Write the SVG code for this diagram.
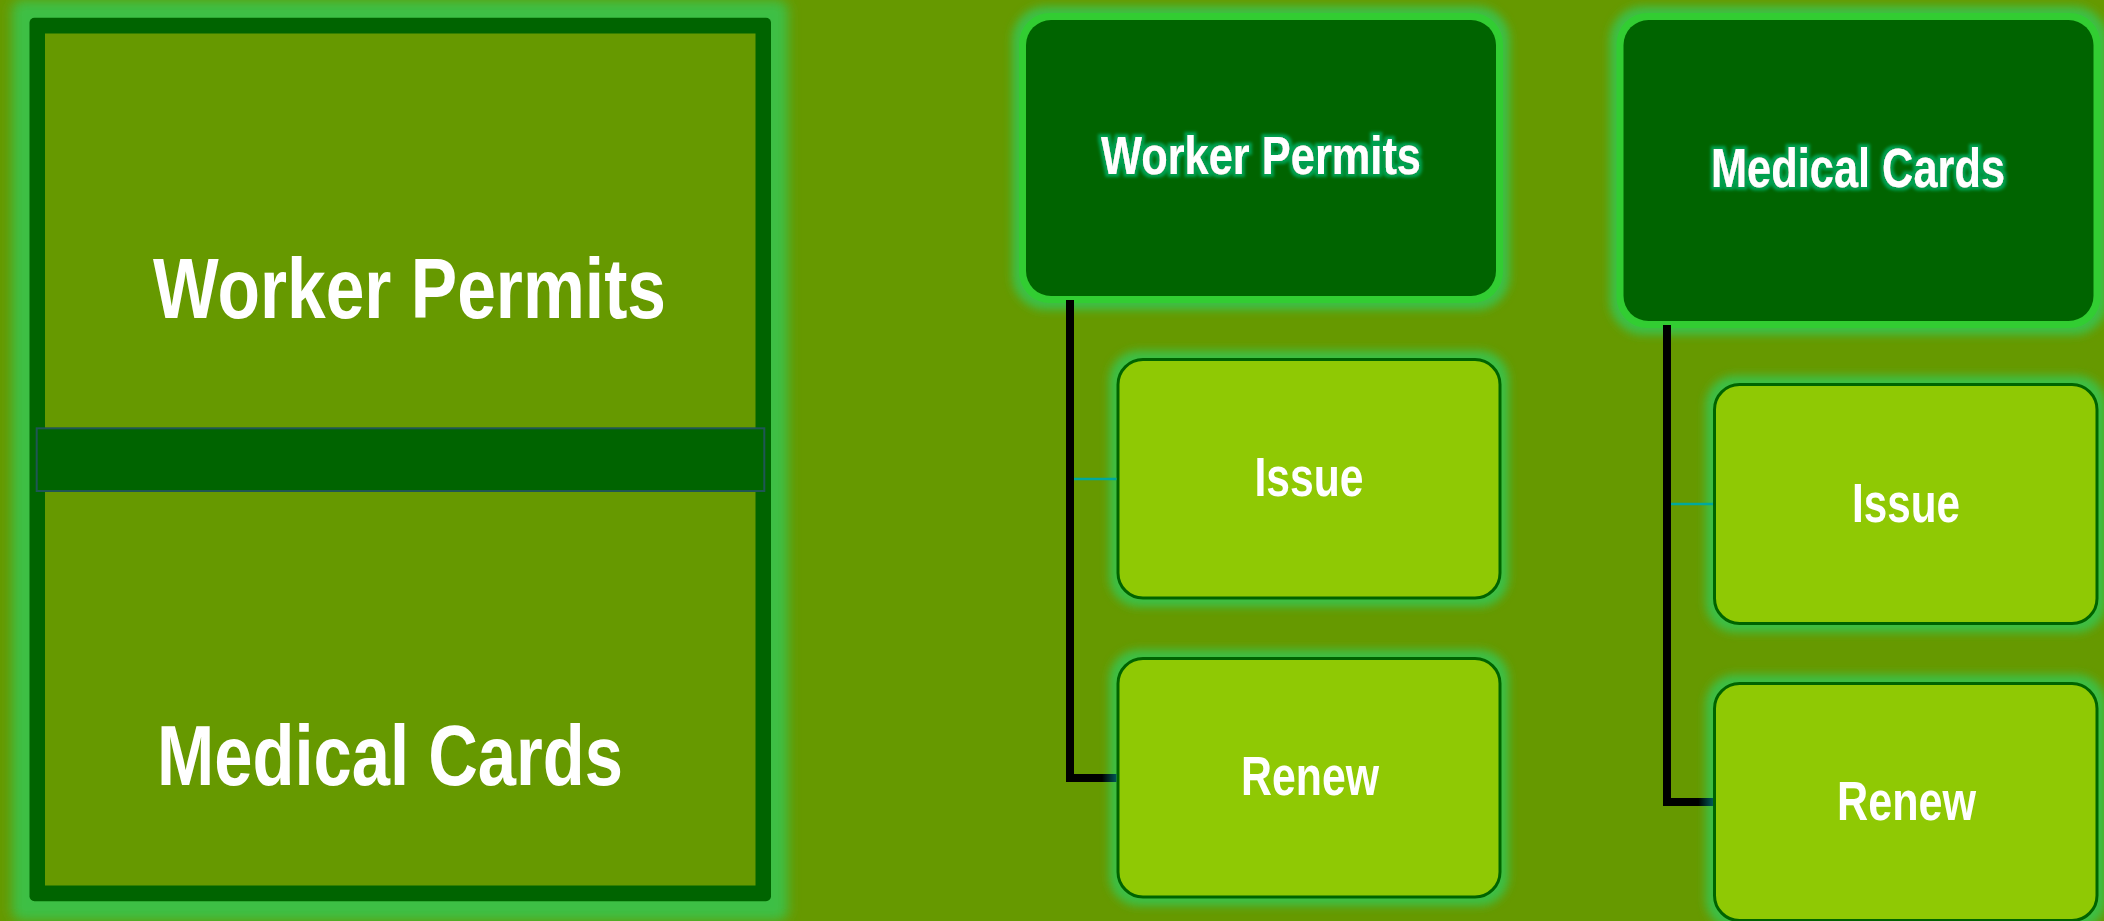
<svg xmlns="http://www.w3.org/2000/svg" width="2104" height="921" viewBox="0 0 2104 921">
<style>
.lbl{font-family:"Liberation Sans Narrow","Liberation Sans",Arial,sans-serif;font-weight:bold;fill:#ffffff}
.head{fill:#006400}
.ring{fill:#32cd32}
.child{fill:#8fc904;stroke:#006400;stroke-width:3}
.glowHead{fill:#3dbf45;filter:url(#blur4)}
.glowChild{fill:#3dbf45;filter:url(#blur4)}
</style>
<defs>
<filter id="blur4" x="-20%" y="-20%" width="140%" height="140%"><feGaussianBlur stdDeviation="4"/></filter>
<filter id="blur6" x="-20%" y="-20%" width="140%" height="140%"><feGaussianBlur stdDeviation="6"/></filter>
<filter id="txtGlow" x="-10%" y="-30%" width="120%" height="160%">
<feMorphology in="SourceAlpha" operator="dilate" radius="2.5" result="d"/>
<feFlood flood-color="#00a050"/>
<feComposite in2="d" operator="in" result="g"/>
<feGaussianBlur in="g" stdDeviation="1.8" result="gb"/>
<feMerge><feMergeNode in="gb"/><feMergeNode in="SourceGraphic"/></feMerge>
</filter>
<linearGradient id="gWP" gradientUnits="userSpaceOnUse" x1="1070" y1="0" x2="1117" y2="0">
<stop offset="0" stop-color="#000"/><stop offset="0.68" stop-color="#000"/><stop offset="1" stop-color="#005a5a"/>
</linearGradient>
<linearGradient id="gMC" gradientUnits="userSpaceOnUse" x1="1667" y1="0" x2="1713" y2="0">
<stop offset="0" stop-color="#000"/><stop offset="0.68" stop-color="#000"/><stop offset="1" stop-color="#005a5a"/>
</linearGradient>
</defs>
<rect x="0" y="0" width="2104" height="921" fill="#669900"/>

<g id="panel">
<rect x="12" y="0" width="776" height="921" rx="10" fill="#3dbf45" filter="url(#blur6)"/>
<rect x="29.5" y="17.7" width="741.5" height="883.6" rx="5" fill="#006400"/>
<rect x="45" y="33.5" width="710.5" height="852" fill="#669900"/>
<rect x="36.7" y="428.3" width="727.6" height="62.7" fill="#006400" stroke="#1f5654" stroke-width="2"/>
<text class="lbl" x="153" y="318" font-size="86" textLength="513" lengthAdjust="spacingAndGlyphs">Worker Permits</text>
<text class="lbl" x="157" y="785" font-size="86" textLength="466" lengthAdjust="spacingAndGlyphs">Medical Cards</text>
</g>

<g id="wp-head">
<rect class="glowHead" x="1012" y="6" width="498" height="304" rx="34"/>
<rect class="ring" x="1019" y="13" width="484" height="290" rx="31"/>
<rect class="head" x="1026" y="20" width="470" height="276" rx="25"/>
<text class="lbl" x="1261" y="174" font-size="54" text-anchor="middle" textLength="320" lengthAdjust="spacingAndGlyphs" filter="url(#txtGlow)">Worker Permits</text>
</g>
<g id="wp-issue">
<rect class="glowChild" x="1109" y="350.5" width="400" height="256.5" rx="30"/>
<rect class="child" x="1118" y="359.5" width="382" height="238.5" rx="25"/>
<text class="lbl" x="1309" y="496" font-size="55" text-anchor="middle" textLength="109" lengthAdjust="spacingAndGlyphs">Issue</text>
</g>
<g id="wp-renew">
<rect class="glowChild" x="1109" y="649.5" width="400" height="256.5" rx="30"/>
<rect class="child" x="1118" y="658.5" width="382" height="238.5" rx="25"/>
<text class="lbl" x="1310" y="795" font-size="55" text-anchor="middle" textLength="138" lengthAdjust="spacingAndGlyphs">Renew</text>
</g>

<g id="mc-head">
<rect class="glowHead" x="1609.5" y="6" width="498" height="329" rx="34"/>
<rect class="ring" x="1616.5" y="13" width="484" height="315" rx="31"/>
<rect class="head" x="1623.5" y="20" width="470" height="301" rx="25"/>
<text class="lbl" x="1858" y="187" font-size="55" text-anchor="middle" textLength="294" lengthAdjust="spacingAndGlyphs" filter="url(#txtGlow)">Medical Cards</text>
</g>
<g id="mc-issue">
<rect class="glowChild" x="1705.5" y="375.5" width="400.5" height="257" rx="30"/>
<rect class="child" x="1714.5" y="384.5" width="382.5" height="239" rx="25"/>
<text class="lbl" x="1906" y="522" font-size="55" text-anchor="middle" textLength="108" lengthAdjust="spacingAndGlyphs">Issue</text>
</g>
<g id="mc-renew">
<rect class="glowChild" x="1705.5" y="674.5" width="400.5" height="255" rx="30"/>
<rect class="child" x="1714.5" y="683.5" width="382.5" height="237" rx="25"/>
<text class="lbl" x="1906.5" y="820" font-size="55" text-anchor="middle" textLength="139" lengthAdjust="spacingAndGlyphs">Renew</text>
</g>

<g id="connectors" fill="none">
<path d="M1070,300 V778 H1116.5" stroke="url(#gWP)" stroke-width="8"/>
<line x1="1074" y1="479" x2="1116.5" y2="479" stroke="#00a99d" stroke-width="2.5"/>
<path d="M1667,325 V802 H1713" stroke="url(#gMC)" stroke-width="8"/>
<line x1="1671" y1="504" x2="1713" y2="504" stroke="#00a99d" stroke-width="2.5"/>
</g>
</svg>
